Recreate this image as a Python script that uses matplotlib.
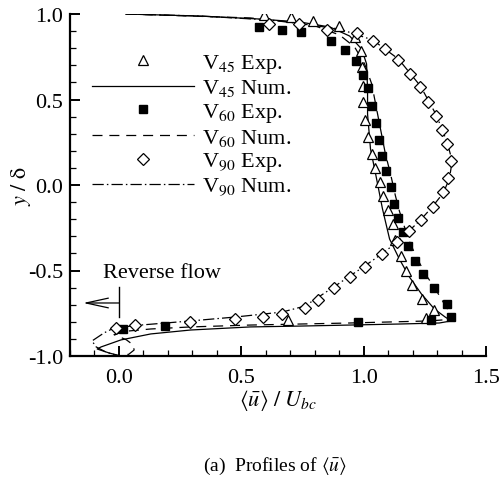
import matplotlib
matplotlib.use("Agg")
import matplotlib.pyplot as plt
from matplotlib.lines import Line2D
import numpy as np

plt.rcParams['font.family'] = ['Liberation Serif', 'DejaVu Serif']
plt.rcParams['mathtext.fontset'] = 'stix'
plt.rcParams['axes.unicode_minus'] = False

# ---------------- data ----------------
v45_exp_x = [0.593, 0.703, 0.793, 0.898, 0.963, 0.988, 0.992, 0.996, 0.996, 1.004, 1.016, 1.033,
             1.045, 1.065, 1.081, 1.098, 1.118, 1.130, 1.154, 1.175, 1.199, 1.240, 1.289, 1.256, 0.691]
v45_exp_y = [0.994, 0.982, 0.959, 0.930, 0.865, 0.784, 0.690, 0.579, 0.485, 0.380, 0.281, 0.181,
             0.099, 0.018, -0.064, -0.146, -0.228, -0.322, -0.415, -0.503, -0.585, -0.667, -0.731, -0.778, -0.789]

v60_exp_x = [0.573, 0.667, 0.744, 0.866, 0.923, 0.967, 0.996, 1.016, 1.033, 1.049, 1.061, 1.077, 1.093,
             1.110, 1.122, 1.142, 1.159, 1.183, 1.211, 1.244, 1.289, 1.341, 1.358, 1.276, 0.976, 0.187, 0.016]
v60_exp_y = [0.924, 0.906, 0.895, 0.842, 0.789, 0.725, 0.643, 0.567, 0.462, 0.363, 0.263, 0.170, 0.082,
             -0.012, -0.111, -0.193, -0.275, -0.357, -0.444, -0.520, -0.602, -0.696, -0.772, -0.789, -0.801, -0.825, -0.842]

v90_exp_x = [0.614, 0.736, 0.850, 0.972, 1.037, 1.089, 1.142, 1.191, 1.232, 1.264, 1.297, 1.321, 1.341,
             1.358, 1.346, 1.325, 1.285, 1.236, 1.187, 1.138, 1.077, 1.004, 0.943, 0.878, 0.813, 0.760,
             0.667, 0.589, 0.476, 0.289, 0.065, -0.012]
v90_exp_y = [0.942, 0.942, 0.906, 0.889, 0.842, 0.795, 0.731, 0.649, 0.573, 0.485, 0.404, 0.322, 0.240,
             0.140, 0.041, -0.041, -0.129, -0.205, -0.269, -0.333, -0.404, -0.480, -0.538, -0.602, -0.673, -0.719,
             -0.754, -0.772, -0.784, -0.801, -0.819, -0.836]

v45_num_x = [0.028, 0.333, 0.569, 0.740, 0.862, 0.943, 0.992, 1.012, 1.016, 1.016, 1.028, 1.049, 1.077,
             1.106, 1.146, 1.187, 1.236, 1.289, 1.333, 1.358, 1.309, 1.146, 0.943, 0.740, 0.537, 0.293,
             0.130, 0.008, -0.073, -0.089, -0.041, 0.008]
v45_num_y = [1.000, 0.988, 0.971, 0.953, 0.924, 0.871, 0.795, 0.708, 0.561, 0.415, 0.211, 0.064, -0.140,
             -0.316, -0.433, -0.538, -0.637, -0.725, -0.772, -0.795, -0.807, -0.813, -0.819, -0.825, -0.830, -0.848,
             -0.871, -0.906, -0.947, -0.959, -0.982, -1.000]

v60_num_x = [0.028, 0.537, 0.780, 0.902, 0.963, 1.004, 1.033, 1.053, 1.069, 1.089, 1.110, 1.130, 1.146,
             1.167, 1.191, 1.220, 1.252, 1.293, 1.337, 1.370, 1.268, 0.943, 0.537, 0.293, 0.130, 0.030,
             -0.020, 0.030, 0.058, 0.062, 0.040, 0.000]
v60_num_y = [1.000, 0.977, 0.942, 0.877, 0.807, 0.708, 0.591, 0.444, 0.327, 0.181, 0.064, -0.064, -0.152,
             -0.246, -0.345, -0.433, -0.520, -0.608, -0.713, -0.784, -0.795, -0.807, -0.819, -0.830, -0.842, -0.855,
             -0.875, -0.905, -0.935, -0.965, -0.990, -1.000]

v90_num_x = [0.028, 0.333, 0.618, 0.780, 0.902, 1.037, 1.142, 1.232, 1.297, 1.341, 1.362, 1.350, 1.325,
             1.280, 1.232, 1.138, 1.073, 1.004, 0.878, 0.760, 0.667, 0.476, 0.293, 0.089, -0.020, -0.061,
             -0.110, -0.093, -0.053, 0.000]
v90_num_y = [1.000, 0.988, 0.965, 0.936, 0.912, 0.848, 0.737, 0.579, 0.409, 0.251, 0.140, 0.035, -0.047,
             -0.129, -0.205, -0.333, -0.404, -0.474, -0.596, -0.708, -0.743, -0.772, -0.795, -0.819, -0.836, -0.865,
             -0.912, -0.947, -0.977, -1.000]

legend_labels = [r'V$_{45}$ Exp.', r'V$_{45}$ Num.', r'V$_{60}$ Exp.',
                 r'V$_{60}$ Num.', r'V$_{90}$ Exp.', r'V$_{90}$ Num.']
x_ticks = [0.0, 0.5, 1.0, 1.5]
y_ticks = [-1.0, -0.5, 0.0, 0.5, 1.0]

# ---------------- figure ----------------
fig = plt.figure(figsize=(5.03, 4.81), dpi=100)
ax = fig.add_axes([70/503, 1-357/481, (486-70)/503, (357-15)/481])

lw = 0.9
dash_style = (0, (8, 5.5))
dashdot_style = (0, (9, 2.5, 1.2, 2.5))
tri_ms, sq_ms, dia_ms = 7.5, 6, 6.2

ax.plot(v45_num_x, v45_num_y, color='black', lw=lw, linestyle='-')
ax.plot(v60_num_x, v60_num_y, color='black', lw=lw, linestyle=dash_style)
ax.plot(v90_num_x, v90_num_y, color='black', lw=lw, linestyle=dashdot_style)

ax.plot(v45_exp_x, v45_exp_y, linestyle='none', marker='^', ms=tri_ms, mfc='white', mec='black', mew=0.9)
ax.plot(v60_exp_x, v60_exp_y, linestyle='none', marker='s', ms=sq_ms, mfc='black', mec='black')
ax.plot(v90_exp_x, v90_exp_y, linestyle='none', marker='D', ms=dia_ms, mfc='white', mec='black', mew=0.9)

ax.set_xlim(-0.2, 1.5)
ax.set_ylim(-1.0, 1.0)
ax.set_xticks(x_ticks)
ax.set_yticks(y_ticks)
ax.set_xticklabels(['%.1f' % v for v in x_ticks])
ax.set_yticklabels(['%.1f' % v for v in y_ticks])
ax.set_xticks(np.arange(-0.2, 1.51, 0.1), minor=True)
ax.set_yticks(np.arange(-1.0, 1.01, 0.1), minor=True)
for s in ['top', 'right']:
    ax.spines[s].set_visible(False)
for s in ['left', 'bottom']:
    ax.spines[s].set_linewidth(1.6)
ax.tick_params(which='major', direction='in', length=7, width=1.4, labelsize=16)
ax.tick_params(axis='x', which='major', pad=9)
ax.tick_params(axis='y', which='major', pad=5)
ax.tick_params(which='minor', direction='in', length=4, width=0.9)

ax.set_xlabel(r'$\langle \bar{u} \rangle\ /\ U_{bc}$', fontsize=16, labelpad=0)
ax.set_ylabel(r'$y\ /\ \mathrm{\delta}$', fontsize=16, labelpad=-4)

handles = [
    Line2D([], [], linestyle='none', marker='^', ms=tri_ms, mfc='white', mec='black', mew=0.9),
    Line2D([], [], color='black', lw=lw, linestyle='-'),
    Line2D([], [], linestyle='none', marker='s', ms=sq_ms, mfc='black', mec='black'),
    Line2D([], [], color='black', lw=lw, linestyle=dash_style),
    Line2D([], [], linestyle='none', marker='D', ms=dia_ms, mfc='white', mec='black', mew=0.9),
    Line2D([], [], color='black', lw=lw, linestyle=dashdot_style),
]
leg = ax.legend(handles, legend_labels, loc='upper left', bbox_to_anchor=(0.052, 0.89),
                frameon=False, fontsize=16, handlelength=4.6, handletextpad=0.35,
                labelspacing=0.12, borderpad=0, borderaxespad=0)

# Reverse flow annotation
ax.text(-0.065, -0.509, 'Reverse flow', fontsize=16, ha='left', va='center')
ax.plot([0.0, 0.0], [-0.596, -0.772], color='black', lw=1.0)
ax.annotate('', xy=(-0.146, -0.690), xytext=(0.0, -0.690),
            arrowprops=dict(arrowstyle='->,head_length=1.6,head_width=0.35', color='black', lw=0.9,
                            shrinkA=0, shrinkB=0))

fig.text(275/503, 1-466/481, r'(a)  Profiles of $\langle \bar{u} \rangle$', fontsize=14,
         ha='center', va='center')

fig.savefig('out.png', dpi=100)
